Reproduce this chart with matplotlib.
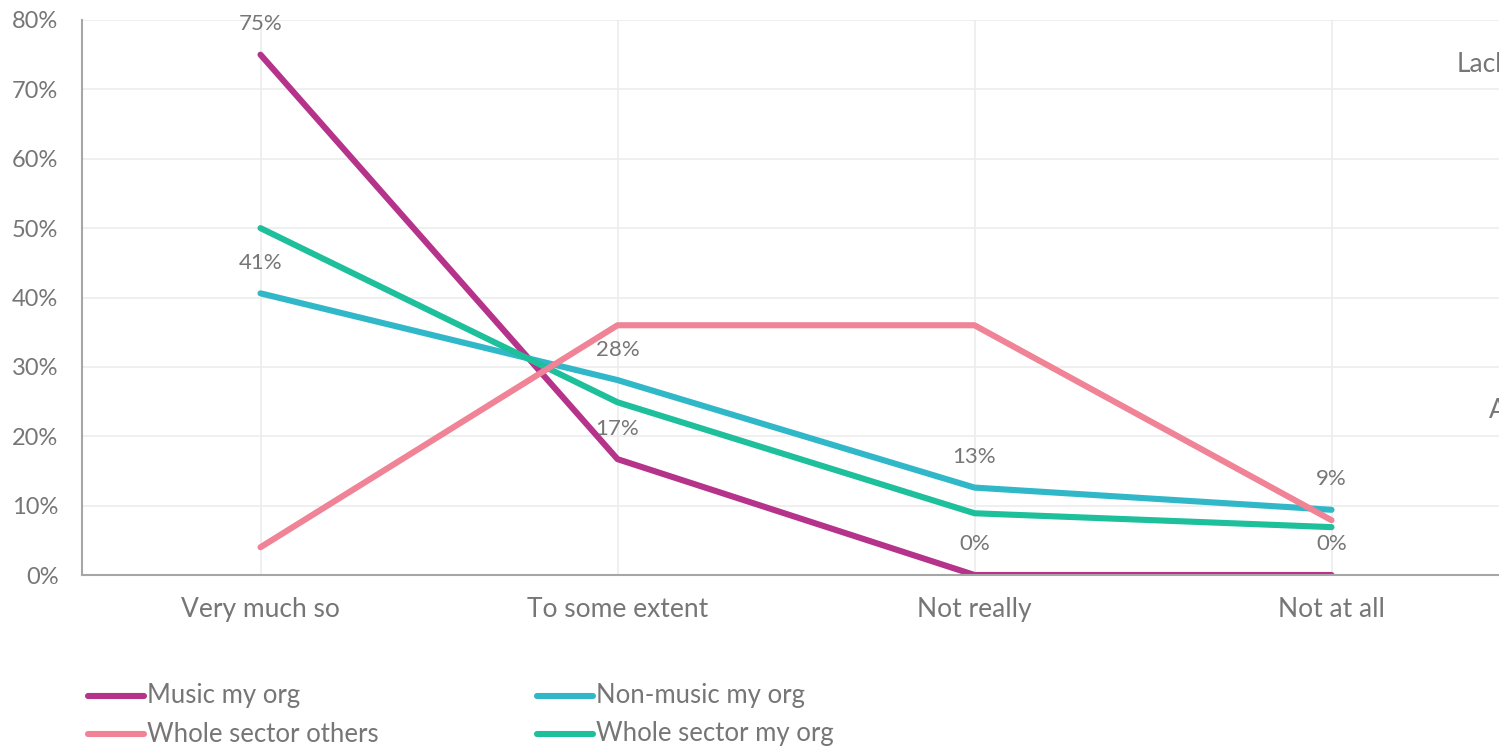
import matplotlib
matplotlib.use("Agg")
import matplotlib.pyplot as plt
from matplotlib.lines import Line2D

plt.rcParams['font.family'] = ['Lato', 'DejaVu Sans']

categories = ["Very much so", "To some extent", "Not really", "Not at all"]
music_my_org = [75.0, 16.7, 0.0, 0.0]
non_music_my_org = [40.6, 28.1, 12.6, 9.4]
whole_sector_others = [4.0, 36.0, 36.0, 7.9]
whole_sector_my_org = [50.0, 24.9, 8.9, 6.9]

series_names = ["Music my org", "Non-music my org", "Whole sector others", "Whole sector my org"]
series_values = [music_my_org, non_music_my_org, whole_sector_others, whole_sector_my_org]
series_colors = ["#b5338a", "#30b8c9", "#f08396", "#1ebf9b"]
series_z = [2, 3, 5, 4]
labelled = [True, True, False, False]

text_color = "#767676"
W, H = 1499, 748
fig = plt.figure(figsize=(W / 100, H / 100), dpi=100)

# axes: left edge at x=82, 0% at y=575, 80% at y=20; 5th category slot extends past the right edge
left, right = 82, 82 + 4 * 357
bottom_px, top_px = 575, 20
ax = fig.add_axes([left / W, 1 - bottom_px / H, (right - left) / W, (bottom_px - top_px) / H])
ax.set_xlim(-0.5, 3.5)
ax.set_ylim(0, 80)

x = list(range(len(categories)))
for vals, col, z in zip(series_values, series_colors, series_z):
    ax.plot(x, vals, color=col, lw=4.4, solid_capstyle='round', solid_joinstyle='round', zorder=z)

for vals, lab in zip(series_values, labelled):
    if not lab:
        continue
    for xi, v in zip(x, vals):
        ax.annotate(f"{int(v + 0.5)}%", (xi, v), xytext=(0, 22), textcoords='offset points',
                    ha='center', va='center', fontsize=16, color=text_color, zorder=6)

ax.set_yticks(range(0, 81, 10))
ax.set_yticklabels([f"{t}%" for t in range(0, 81, 10)], fontsize=17)
ax.set_xticks(x)
ax.set_xticklabels(categories, fontsize=19)
ax.tick_params(axis='both', length=0, colors=text_color)
ax.tick_params(axis='y', pad=17)
ax.tick_params(axis='x', pad=16)
ax.grid(True, color="#ececec", lw=1.2, zorder=0)
ax.set_axisbelow(True)
for s in ['top', 'right']:
    ax.spines[s].set_visible(False)
for s in ['left', 'bottom']:
    ax.spines[s].set_color("#a6a6a6")
    ax.spines[s].set_linewidth(1.5)

# side labels running off the right edge
fig.text(1457 / W, 1 - 65 / H, "Lack", fontsize=19, color=text_color, va='center', ha='left')
fig.text(1489 / W, 1 - 410 / H, "A", fontsize=19, color=text_color, va='center', ha='left')

# legend in two columns below the plot
legend_pos = [(88, 696), (537, 696), (88, 734), (537, 734)]
for name, col, (lx, ly) in zip(series_names, series_colors, legend_pos):
    fig.add_artist(Line2D([lx / W, (lx + 56) / W], [1 - ly / H, 1 - ly / H], color=col, lw=4.4,
                          solid_capstyle='round', transform=fig.transFigure))
    fig.text((lx + 59) / W, 1 - ly / H, name, fontsize=18.5, color=text_color, va='center', ha='left')

fig.savefig("out.png", dpi=100)
